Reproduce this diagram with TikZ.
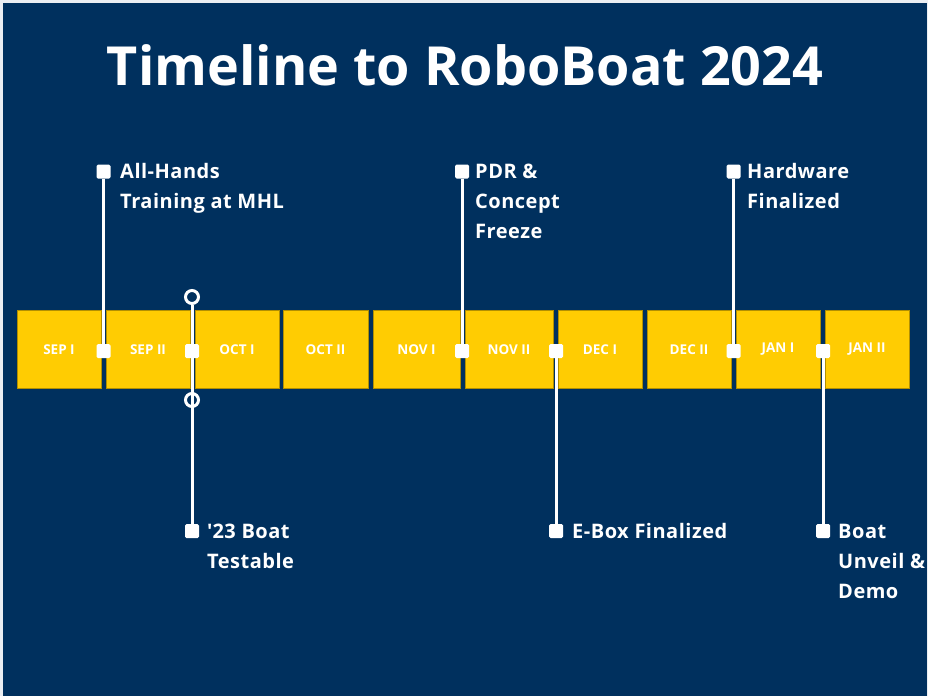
\documentclass[tikz,border=0pt]{standalone}
\usepackage{fontspec}
\setmainfont{Open Sans}
\newfontfamily\eventfont[LetterSpace=2.5]{Open Sans}
\definecolor{navy}{HTML}{00305E}
\definecolor{gold}{HTML}{FFCC02}
\begin{document}
\begin{tikzpicture}[x=1pt,y=-1pt,
  month/.style={draw=gold!70!black, line width=0.6pt, fill=gold, minimum height=77.5pt,
    inner sep=0pt, text=white, font=\bfseries\fontsize{13.5}{15}\selectfont},
  pin/.style={fill=white, rounded corners=1.5pt, minimum size=14pt, inner sep=0pt},
  ring/.style={circle, draw=white, line width=3pt, minimum size=13pt, inner sep=0pt},
  stem/.style={draw=white, line width=3pt},
  % anchor base west sits on the baseline of the last line
  event/.style={text=white, font=\eventfont\bfseries\fontsize{20}{30}\selectfont, align=left,
    anchor=base west, inner sep=0pt},
]
% page and background
\useasboundingbox (0,0) rectangle (928,696);
\fill[white!92!navy] (0,0) rectangle (928,696);
\fill[navy] (3,3) rectangle (927,696);

% title
\node[anchor=base, text=white, inner sep=0pt] (title) at (465,85)
  {\resizebox{716pt}{!}{\bfseries Timeline to RoboBoat 2024}};

% half-month blocks
\foreach \l/\r/\t [count=\i] in {17/101/SEP I, 106/190/SEP II, 195/279/OCT I,
    283/368/OCT II, 373/460/NOV I, 465/553/NOV II, 558/642/DEC I,
    647/731/DEC II, 736/820/JAN I, 825/909/JAN II}{
  \pgfmathsetmacro\cx{(\l+\r)/2}
  \pgfmathsetmacro\boxw{\r-\l}
  \node[month, minimum width=\boxw pt] (b\i) at (\cx,349.5) {\t};
}

% markers on the bar
\node[pin] (m1) at (103.5,351) {};
\node[pin] (m2) at (192,351) {};
\node[pin] (m3) at (462,351) {};
\node[pin] (m4) at (556,351) {};
\node[pin] (m5) at (733.5,351) {};
\node[pin] (m6) at (823,351) {};

% end markers
\node[pin] (t1) at (103.5,171.5) {};
\node[pin] (t3) at (462,171.5) {};
\node[pin] (t5) at (733.5,171.5) {};
\node[pin] (d2) at (192,531) {};
\node[pin] (d4) at (556,531) {};
\node[pin] (d6) at (823,531) {};
\node[ring] (r1) at (192,297) {};
\node[ring] (r2) at (192,400) {};

% stems
\draw[stem] (t1) -- (m1);
\draw[stem] (t3) -- (m3);
\draw[stem] (t5) -- (m5);
\draw[stem] (r1.south) -- (d2);
\draw[stem] (m4) -- (d4);
\draw[stem] (m6) -- (d6);

% event labels
\node[event] (e1) at (120,208) {All-Hands\\Training at MHL};
\node[event] (e2) at (207,568) {\textquotesingle 23 Boat\\Testable};
\node[event] (e3) at (475,238) {PDR \&\\Concept\\Freeze};
\node[event] (e4) at (572,538) {E-Box Finalized};
\node[event] (e5) at (747,208) {Hardware\\Finalized};
\node[event] (e6) at (838,598) {Boat\\Unveil \&\\Demo};
\end{tikzpicture}
\end{document}
